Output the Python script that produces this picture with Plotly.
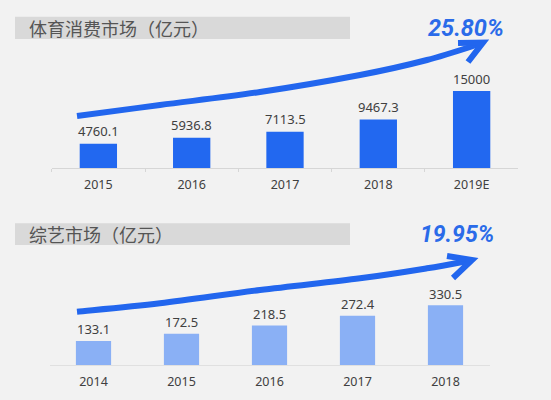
import plotly.graph_objects as go

W, H = 551, 400

# ---- data ----
sports_years = ["2015", "2016", "2017", "2018", "2019E"]
sports_values = [4760.1, 5936.8, 7113.5, 9467.3, 15000]
sports_title = "体育消费市场（亿元）"
sports_growth = "25.80%"

variety_years = ["2014", "2015", "2016", "2017", "2018"]
variety_values = [133.1, 172.5, 218.5, 272.4, 330.5]
variety_title = "综艺市场（亿元）"
variety_growth = "19.95%"

BG = "#f2f2f2"
DARK_BLUE = "#2268f0"
LIGHT_BLUE = "#8ab0f5"
ARROW = "#2266ee"
TXT = "#404040"
NUM_FONT = "Noto Sans, Open Sans, sans-serif"
CJK_FONT = "Noto Sans CJK SC, sans-serif"


def px(x):
    return x / W


def py(y):
    return 1 - y / H


def smooth_path(pts):
    # Catmull-Rom -> cubic Bezier, in paper coords
    P = [(px(x), py(y)) for x, y in pts]
    d = f"M {P[0][0]:.5f},{P[0][1]:.5f}"
    for i in range(len(P) - 1):
        p0 = P[i - 1] if i > 0 else P[i]
        p1 = P[i]
        p2 = P[i + 1]
        p3 = P[i + 2] if i + 2 < len(P) else P[i + 1]
        c1 = (p1[0] + (p2[0] - p0[0]) / 6, p1[1] + (p2[1] - p0[1]) / 6)
        c2 = (p2[0] - (p3[0] - p1[0]) / 6, p2[1] - (p3[1] - p1[1]) / 6)
        d += f" C {c1[0]:.5f},{c1[1]:.5f} {c2[0]:.5f},{c2[1]:.5f} {p2[0]:.5f},{p2[1]:.5f}"
    return d


def poly_path(pts):
    P = [(px(x), py(y)) for x, y in pts]
    return "M " + " L ".join(f"{a:.5f},{b:.5f}" for a, b in P)


fig = go.Figure()

fig.add_trace(go.Bar(
    x=sports_years, y=sports_values, marker=dict(color=DARK_BLUE, line=dict(width=0)),
    xaxis="x", yaxis="y", hoverinfo="skip", showlegend=False))
fig.add_trace(go.Bar(
    x=variety_years, y=variety_values, marker=dict(color=LIGHT_BLUE, line=dict(width=0)),
    xaxis="x2", yaxis="y2", hoverinfo="skip", showlegend=False))

annotations = []
for i, v in enumerate(sports_values):
    annotations.append(dict(x=i, y=v, xref="x", yref="y", text=f"{v:g}", showarrow=False,
                            yanchor="middle", yshift=12.5,
                            font=dict(family=NUM_FONT, size=13, color=TXT)))
for i, v in enumerate(variety_values):
    annotations.append(dict(x=i, y=v, xref="x2", yref="y2", text=f"{v:g}", showarrow=False,
                            yanchor="middle", yshift=11.5,
                            font=dict(family=NUM_FONT, size=13, color=TXT)))

# titles
annotations.append(dict(x=px(27), y=py(28), xref="paper", yref="paper", text=sports_title,
                        xanchor="left", yanchor="middle", showarrow=False,
                        font=dict(family=CJK_FONT, size=18, color="#555555")))
annotations.append(dict(x=px(27), y=py(234), xref="paper", yref="paper", text=variety_title,
                        xanchor="left", yanchor="middle", showarrow=False,
                        font=dict(family=CJK_FONT, size=18, color="#555555")))
# growth
annotations.append(dict(x=px(426), y=py(28), xref="paper", yref="paper",
                        text=f"<b><i>{sports_growth}</i></b>",
                        xanchor="left", yanchor="middle", showarrow=False,
                        font=dict(family="Roboto, sans-serif", size=23.5, color="#2a6be9")))
annotations.append(dict(x=px(418), y=py(234), xref="paper", yref="paper",
                        text=f"<b><i>{variety_growth}</i></b>",
                        xanchor="left", yanchor="middle", showarrow=False,
                        font=dict(family="Roboto, sans-serif", size=23, color="#2a6be9")))

shapes = [
    dict(type="rect", xref="paper", yref="paper", x0=px(15), x1=px(350), y0=py(39), y1=py(16.7),
         fillcolor="#d9d9d9", line=dict(width=0), layer="below"),
    dict(type="rect", xref="paper", yref="paper", x0=px(15), x1=px(350), y0=py(245), y1=py(223.3),
         fillcolor="#d9d9d9", line=dict(width=0), layer="below"),
]

top_arrow = [(77, 116), (160, 105), (260, 92), (360, 75), (427, 60), (481, 43.5)]
top_head = [(458, 43), (483, 42.5), (468, 62)]
bot_arrow = [(77, 311.7), (160, 303.3), (260, 290), (360, 278.3), (427, 268.3), (470, 260.5)]
bot_head = [(447, 256), (472, 260), (453, 278)]

for pts, head in ((top_arrow, top_head), (bot_arrow, bot_head)):
    shapes.append(dict(type="path", xref="paper", yref="paper", path=smooth_path(pts),
                       line=dict(color=ARROW, width=6)))
    shapes.append(dict(type="path", xref="paper", yref="paper", path=poly_path(head),
                       line=dict(color=ARROW, width=6)))

axis_common = dict(showgrid=False, zeroline=False, fixedrange=True)

fig.update_layout(
    width=W, height=H,
    margin=dict(l=0, r=0, t=0, b=0),
    paper_bgcolor=BG, plot_bgcolor="rgba(0,0,0,0)",
    bargap=0.6, showlegend=False,
    xaxis=dict(domain=[px(51.7), px(518.3)], anchor="y", type="category",
               range=[-0.5, len(sports_years) - 0.5],
               showline=True, linecolor="#d6d6d6", linewidth=1,
               ticks="outside", tickson="boundaries", ticklen=3, tickcolor="#d6d6d6",
               ticklabelstandoff=5,
               tickfont=dict(family=NUM_FONT, size=12.5, color=TXT), **axis_common),
    yaxis=dict(domain=[py(168.3), py(85.9)], anchor="x", range=[0, 16000],
               visible=False, **axis_common),
    xaxis2=dict(domain=[px(49.5), px(489.5)], anchor="y2", type="category",
                range=[-0.5, len(variety_years) - 0.5],
                showline=True, linecolor="#e0e0e0", linewidth=1, ticks="",
                ticklabelstandoff=5,
                tickfont=dict(family=NUM_FONT, size=12.5, color=TXT), **axis_common),
    yaxis2=dict(domain=[py(365), py(299.8)], anchor="x2", range=[0, 360],
                visible=False, **axis_common),
    annotations=annotations,
    shapes=shapes,
)

fig.write_html(
    "out.html",
    config=dict(displayModeBar=False),
    post_script="document.body.style.margin='0';document.body.style.background='%s';" % BG,
)
